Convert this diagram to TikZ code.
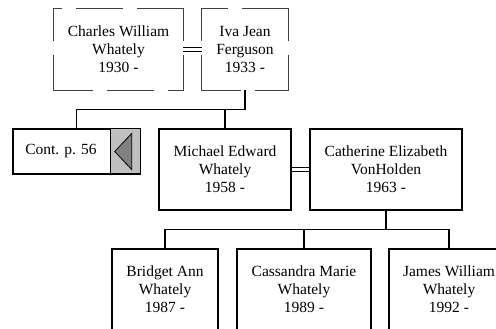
\documentclass[tikz,border=0pt]{standalone}
\usepackage{fontspec}
\setmainfont{Liberation Serif}
\usepackage{tikz}
\usetikzlibrary{calc}
\definecolor{flapgray}{HTML}{C0C0C0}
\definecolor{flapdark}{HTML}{808080}
\definecolor{dashgray}{HTML}{404040}

\begin{document}
\begin{tikzpicture}[x=1pt,y=-1pt,
  box/.style={align=center,inner sep=0pt,minimum height=81pt,font=\fontsize{15.5}{18}\selectfont},
  person/.style={box,draw,line width=1.2pt},
  parentline/.style={line width=0.9pt,draw=dashgray,line cap=rect,dash pattern=on 46pt off 15pt},
  marriage/.style={double,double distance=2.2pt,line width=1pt},
  link/.style={line width=1.3pt}]
  \useasboundingbox (0,0) rectangle (496,329);
  % grandparents
  \node[box,minimum width=129pt] (charles) at (118.5,49.5) {Charles William\\Whately\\1930 -};
  \node[box,minimum width=86pt] (iva) at (245,49.5) {Iva Jean\\Ferguson\\1933 -};
  \foreach \n in {charles,iva}{
    \draw[parentline] (\n.north east) -- (\n.north west);
    \draw[parentline,dash phase=14pt] (\n.north west) -- (\n.south west) (\n.north east) -- (\n.south east);
    \draw[parentline,dash phase=7pt] (\n.south west) -- (\n.south east);
  }
  \draw[marriage] (charles.east) -- (iva.west);
  % parents
  \node[draw,line width=1.4pt,minimum width=127pt,minimum height=45pt,inner sep=0pt] (cont) at (76.5,151.5) {};
  \node[draw,line width=1pt,fill=flapgray,minimum width=30pt,minimum height=45pt,inner sep=0pt,anchor=north east] (flap) at (cont.north east) {};
  \draw[line width=1.4pt] (cont.north west) rectangle (cont.south east);
  \filldraw[fill=flapdark,line width=0.8pt] ($(cont.east)+(-26,0)$) -- ($(cont.east)+(-9,-18)$) -- ($(cont.east)+(-9,18)$) -- cycle;
  \node[font=\fontsize{15.5}{18}\selectfont] (conttext) at ($(cont.west)!0.5!(flap.west)$) {Cont. p. 56};
  \node[person,minimum width=132pt] (michael) at (225,169.5) {Michael Edward\\Whately\\1958 -};
  \node[person,minimum width=152pt] (catherine) at (386,169.5) {Catherine Elizabeth\\VonHolden\\1963 -};
  \draw[marriage] (michael.east) -- (catherine.west);
  \draw[link] (iva.south) -- ++(0,19) -| (cont.north);
  \draw[link] (iva.south) -- ++(0,19) -| (michael.north);
  % children
  \node[person,minimum width=106pt] (bridget) at (165,289.5) {Bridget Ann\\Whately\\1987 -};
  \node[person,minimum width=134pt] (cassandra) at (304,289.5) {Cassandra Marie\\Whately\\1989 -};
  \node[person,minimum width=120pt] (james) at (449,289.5) {James William\\Whately\\1992 -};
  \draw[link] (catherine.south) -- ++(0,19) -| (bridget.north);
  \draw[link] (catherine.south) -- ++(0,19) -| (cassandra.north);
  \draw[link] (catherine.south) -- ++(0,19) -| (james.north);
\end{tikzpicture}
\end{document}
